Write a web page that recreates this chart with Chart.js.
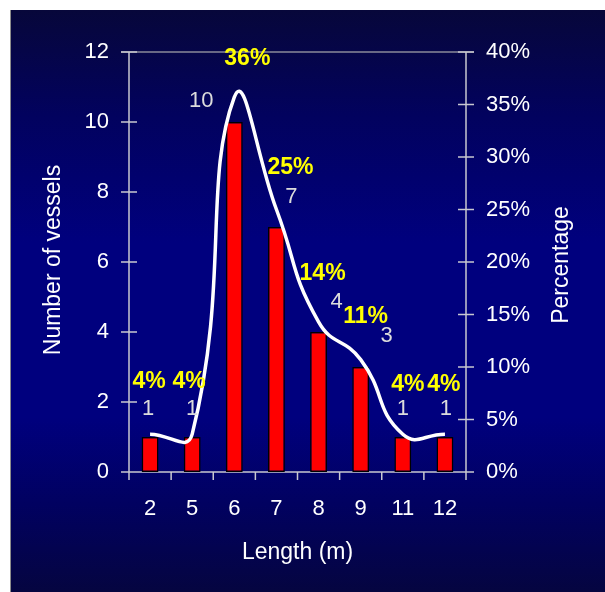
<!DOCTYPE html>
<html>
<head>
<meta charset="utf-8">
<script src="https://cdn.jsdelivr.net/npm/chart.js@4.4.1/dist/chart.umd.min.js"></script>
<style>
  html, body { margin: 0; padding: 0; background: #ffffff; }
  body { width: 605px; height: 592px; position: relative; overflow: hidden; }
  #panel {
    position: absolute; left: 10px; top: 10px; width: 594px; height: 582px;
    border-left: 1px solid #8c8c8c;
    background: linear-gradient(to bottom, #07073a 0%, #02025e 18%, #00007e 40%, #00007e 70%, #010160 85%, #050540 100%);
  }
  canvas { display: block; }
</style>
</head>
<body>
<div id="panel"><canvas id="c" width="594" height="582" style="width:594px;height:582px"></canvas></div>
<script>
// Vessel length classes and counts
const lengths = ['2', '5', '6', '7', '8', '9', '11', '12'];
const vesselCounts = [1, 1, 10, 7, 4, 3, 1, 1];
// Share of all vessels in each class (%)
const vesselShare = [3.6, 3.6, 35.7, 25, 14.3, 10.7, 3.6, 3.6];

// Label nudges (px) relative to the bar top / line point
const countLabelNudge = [[-2, -28], [0, -28], [-33, -21], [15, -30], [18, -30], [26, -31], [0, -28], [1, -28]];
const shareLabelNudge = [[-1, -53], [-3, -53], [13, -38], [14, -42], [4, -48], [5, -43], [5, -50], [-1, -50]];

const FONT = '"Liberation Sans", Arial, Helvetica, sans-serif';
const AXIS_COLOR = '#c8c8d0';

const frame = {
  id: 'frame',
  beforeDatasetsDraw(chart) {
    const { ctx, chartArea: a, scales } = chart;
    ctx.save();
    ctx.lineWidth = 1.5;
    // top border
    ctx.strokeStyle = '#8a8a9a';
    ctx.beginPath();
    ctx.moveTo(a.left - 8, a.top); ctx.lineTo(a.right + 8, a.top);
    ctx.stroke();
    ctx.strokeStyle = AXIS_COLOR;
    ctx.beginPath();
    // left axis + ticks
    ctx.moveTo(a.left, a.top); ctx.lineTo(a.left, a.bottom + 8);
    scales.y.ticks.forEach(t => {
      const y = scales.y.getPixelForValue(t.value);
      ctx.moveTo(a.left - 8, y); ctx.lineTo(a.left + 8, y);
    });
    // right axis + ticks
    ctx.moveTo(a.right, a.top); ctx.lineTo(a.right, a.bottom + 8);
    scales.y1.ticks.forEach(t => {
      const y = scales.y1.getPixelForValue(t.value);
      ctx.moveTo(a.right - 8, y); ctx.lineTo(a.right + 8, y);
    });
    // bottom axis + category separators
    ctx.moveTo(a.left - 8, a.bottom); ctx.lineTo(a.right + 8, a.bottom);
    const n = lengths.length;
    for (let i = 1; i < n; i++) {
      const x = (scales.x.getPixelForValue(i - 1) + scales.x.getPixelForValue(i)) / 2;
      ctx.moveTo(x, a.bottom); ctx.lineTo(x, a.bottom + 8);
    }
    ctx.stroke();
    ctx.restore();
  },
  afterDatasetsDraw(chart) {
    const { ctx, chartArea: a } = chart;
    const bars = chart.getDatasetMeta(1).data;
    const pts = chart.getDatasetMeta(0).data;
    ctx.save();
    ctx.textAlign = 'center';
    ctx.textBaseline = 'middle';
    ctx.font = '22px ' + FONT;
    ctx.fillStyle = '#dcdcdc';
    bars.forEach((b, i) => {
      const [dx, dy] = countLabelNudge[i];
      ctx.fillText(String(vesselCounts[i]), b.x + dx, b.y + dy);
    });
    ctx.font = 'bold 23px ' + FONT;
    ctx.fillStyle = '#ffff00';
    pts.forEach((p, i) => {
      const [dx, dy] = shareLabelNudge[i];
      ctx.fillText(Math.round(vesselShare[i]) + '%', p.x + dx, p.y + dy);
    });
    // axis titles
    ctx.fillStyle = '#ffffff';
    ctx.font = '23px ' + FONT;
    ctx.fillText('Length (m)', (a.left + a.right) / 2, 543);
    ctx.save();
    ctx.translate(43, (a.top + a.bottom) / 2 - 2);
    ctx.rotate(-Math.PI / 2);
    ctx.fillText('Number of vessels', 0, 0);
    ctx.restore();
    ctx.save();
    ctx.translate(551, (a.top + a.bottom) / 2 + 3);
    ctx.rotate(-Math.PI / 2);
    ctx.fillText('Percentage', 0, 0);
    ctx.restore();
    ctx.restore();
  }
};

new Chart(document.getElementById('c'), {
  data: {
    labels: lengths,
    datasets: [
      {
        type: 'line',
        label: 'Percentage',
        data: vesselShare,
        yAxisID: 'y1',
        borderColor: '#ffffff',
        borderWidth: 3.5,
        tension: 0.5,
        pointRadius: 0,
        fill: false,
        order: 0
      },
      {
        type: 'bar',
        label: 'Number of vessels',
        data: vesselCounts,
        yAxisID: 'y',
        backgroundColor: '#ff0000',
        borderColor: '#000000',
        borderWidth: 1.5,
        borderSkipped: false,
        categoryPercentage: 1,
        barPercentage: 0.4,
        order: 1
      }
    ]
  },
  options: {
    responsive: false,
    animation: false,
    events: [],
    layout: { padding: { top: 42, left: 0, right: 0, bottom: 0 } },
    plugins: { legend: { display: false }, tooltip: { enabled: false } },
    scales: {
      x: {
        type: 'category',
        offset: true,
        grid: { display: false, drawTicks: false },
        border: { display: false },
        ticks: { color: '#ffffff', font: { family: FONT, size: 22 }, padding: 24, maxRotation: 0, autoSkip: false },
        afterFit(s) { s.height = 120; }
      },
      y: {
        position: 'left',
        min: 0, max: 12,
        grid: { display: false, drawTicks: false },
        border: { display: false },
        ticks: { stepSize: 2, color: '#ffffff', font: { family: FONT, size: 22 }, padding: 20 },
        afterFit(s) { s.width = 118; }
      },
      y1: {
        position: 'right',
        min: 0, max: 40,
        grid: { display: false, drawTicks: false },
        border: { display: false },
        ticks: { stepSize: 5, color: '#ffffff', font: { family: FONT, size: 22 }, padding: 20, callback: v => v + '%' },
        afterFit(s) { s.width = 139; }
      }
    }
  },
  plugins: [frame]
});
</script>
</body>
</html>
